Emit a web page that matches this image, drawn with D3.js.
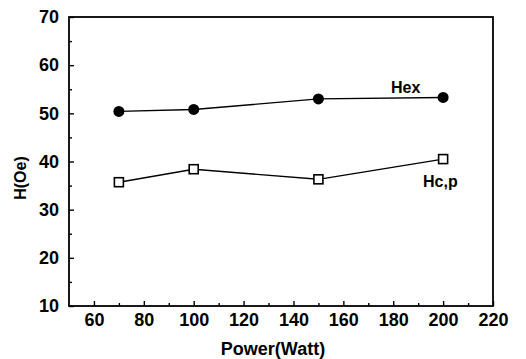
<!DOCTYPE html>
<html><head><meta charset="utf-8">
<script src="https://cdn.jsdelivr.net/npm/d3@7"></script>
<style>body{margin:0;background:#fff}text{font-family:"Liberation Sans",Arial,sans-serif;font-weight:bold}</style>
</head><body>
<svg id="c" width="526" height="359"></svg>
<script>
const power = [70, 100, 150, 200];
const hex = [50.4, 50.8, 53.0, 53.3];
const hcp = [35.7, 38.4, 36.3, 40.5];
const xTicks = [60, 80, 100, 120, 140, 160, 180, 200, 220];
const yTicks = [10, 20, 30, 40, 50, 60, 70];

const svg = d3.select("#c");
const x = d3.scaleLinear().domain([50, 220]).range([69, 493]);
const y = d3.scaleLinear().domain([10, 70]).range([306, 17]);

svg.append("rect").attr("x", x(50)).attr("y", y(70)).attr("width", x(220)-x(50)).attr("height", y(10)-y(70))
  .attr("fill", "none").attr("stroke", "#000").attr("stroke-width", 1.8);

// y axis
const ya = svg.append("g").attr("transform", `translate(${x(50)},0)`)
  .call(d3.axisLeft(y).tickValues(yTicks).tickSize(-5).tickPadding(10));
ya.select(".domain").remove();
ya.selectAll("text").attr("font-size", 18).attr("fill", "#000");
svg.append("g").attr("transform", `translate(${x(50)},0)`)
  .call(d3.axisLeft(y).tickValues(d3.range(15, 70, 10)).tickSize(-3).tickFormat(""))
  .select(".domain").remove();

// x axis
const xa = svg.append("g").attr("transform", `translate(0,${y(10)})`)
  .call(d3.axisBottom(x).tickValues(xTicks).tickSize(-5).tickPadding(7));
xa.select(".domain").remove();
xa.selectAll("text").attr("font-size", 18).attr("fill", "#000");
svg.append("g").attr("transform", `translate(0,${y(10)})`)
  .call(d3.axisBottom(x).tickValues(d3.range(70, 220, 20)).tickSize(-3).tickFormat(""))
  .select(".domain").remove();
svg.selectAll(".tick line").attr("stroke", "#000").attr("stroke-width", 1.4);

const line = d3.line().x((d, i) => x(power[i])).y(d => y(d));
svg.append("path").datum(hex).attr("d", line).attr("fill", "none").attr("stroke", "#000").attr("stroke-width", 1.4);
svg.append("path").datum(hcp).attr("d", line).attr("fill", "none").attr("stroke", "#000").attr("stroke-width", 1.4);

svg.selectAll(".hex").data(hex).enter().append("circle")
  .attr("cx", (d, i) => x(power[i])).attr("cy", d => y(d)).attr("r", 5.5).attr("fill", "#000");
svg.selectAll(".hcp").data(hcp).enter().append("rect")
  .attr("x", (d, i) => x(power[i]) - 4.5).attr("y", d => y(d) - 4.5).attr("width", 9).attr("height", 9)
  .attr("fill", "#fff").attr("stroke", "#000").attr("stroke-width", 1.6);

svg.append("text").attr("x", 391).attr("y", 93).attr("font-size", 16).text("Hex");
svg.append("text").attr("x", 423).attr("y", 187).attr("font-size", 16).text("Hc,p");

svg.append("text").attr("x", 273).attr("y", 355).attr("text-anchor", "middle").attr("font-size", 18).text("Power(Watt)");
svg.append("text").attr("transform", `translate(26,178) rotate(-90)`).attr("text-anchor", "middle").attr("font-size", 16).text("H(Oe)");
</script>
</body></html>
